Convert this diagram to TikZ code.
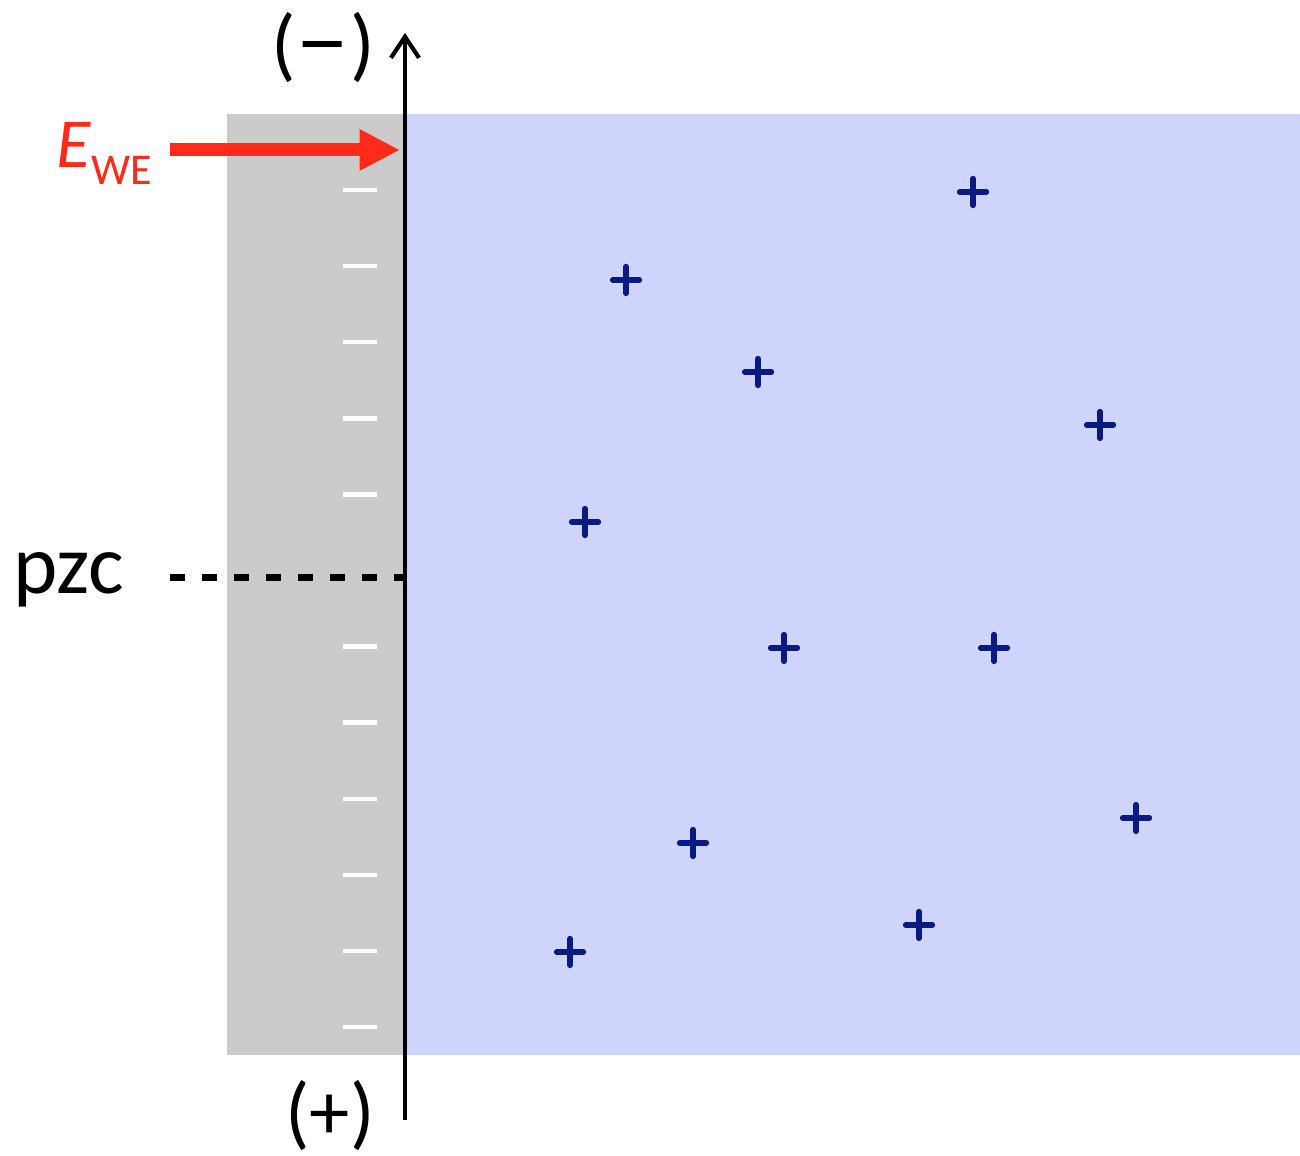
\documentclass[tikz,border=0pt]{standalone}
\usepackage{fontspec}
\setmainfont{Carlito}
\usetikzlibrary{arrows.meta,positioning,calc}
\definecolor{cMetal}{HTML}{CBCBCB}
\definecolor{cSol}{HTML}{CFD4FC}
\definecolor{cField}{HTML}{FF2A1A}
\definecolor{cIon}{HTML}{0A1A80}
\definecolor{cInk}{HTML}{000000}

\begin{document}
\begin{tikzpicture}[
  x=1cm,y=1cm,
  big/.style={font=\fontsize{23}{26}\selectfont,color=cInk,inner sep=0pt},
  ax/.style={-{Straight Barb[length=6pt,width=8pt,line width=1.2pt]},line width=1.2pt,color=cInk},
  fld/.style={-{Triangle[length=11.5pt,width=11pt]},line width=3.7pt,color=cField},
  chargemark/.style={line width=1.3pt,color=white},
  ionmark/.style={line width=1.5pt,color=cIon,line cap=round},
]
\useasboundingbox (0,0) rectangle (13,11.56);

% ============================================================ electrode | electrolyte
\fill[cMetal] (2.27,1.01) rectangle (4.05,10.42);
\fill[cSol]   (4.05,1.01) rectangle (13.00,10.42);

% surface charge on the electrode (no charge at the pzc)
\foreach \k in {0,1,2,3,4,6,7,8,9,10,11}
  \draw[chargemark] (3.43,{9.66-0.761*\k}) -- ++(0.34,0);

% counter ions in solution
\foreach \px/\py in {9.73/9.64, 6.26/8.76, 7.58/7.84, 11.00/7.31, 5.85/6.34,
                     7.84/5.08, 9.94/5.08, 11.36/3.38, 6.93/3.13, 9.19/2.31, 5.70/2.04}
  \draw[ionmark] (\px-0.135,\py) -- (\px+0.135,\py) (\px,\py-0.135) -- (\px,\py+0.135);

% ============================================================ potential axis
\coordinate (axBot) at (4.05,0.36);
\coordinate (axTop) at (4.05,11.23);
\draw[ax] (axBot) -- (axTop);
\node[big] (negSide) at (3.23,11.08) {(\scalebox{1.35}[1.2]{\textendash})};
\node[big] (posSide) at (3.30,0.40) {(+)};

% ============================================================ electrode potential
\node[big,color=cField,anchor=base west,font=\fontsize{20}{23}\selectfont] (ewe) at (0.56,9.88)
  {\itshape E\upshape\raisebox{-4.8pt}{\fontsize{12.5}{15}\selectfont WE}};
\coordinate (eweFoot) at (1.70,10.06);
\coordinate (eweTip) at (4.00,10.06);
\draw[fld] (eweFoot) -- (eweTip);

% ============================================================ point of zero charge
\node[big,anchor=base west,font=\fontsize{24}{27}\selectfont] (pzc) at (0.13,5.62) {pzc};
\coordinate (pzcStart) at (1.70,5.78);
\coordinate (pzcEnd) at (4.05,5.78);
\draw[line width=2pt,color=cInk,dash pattern=on 4.3pt off 4.8pt] (pzcStart) -- (pzcEnd);

\end{tikzpicture}
\end{document}
